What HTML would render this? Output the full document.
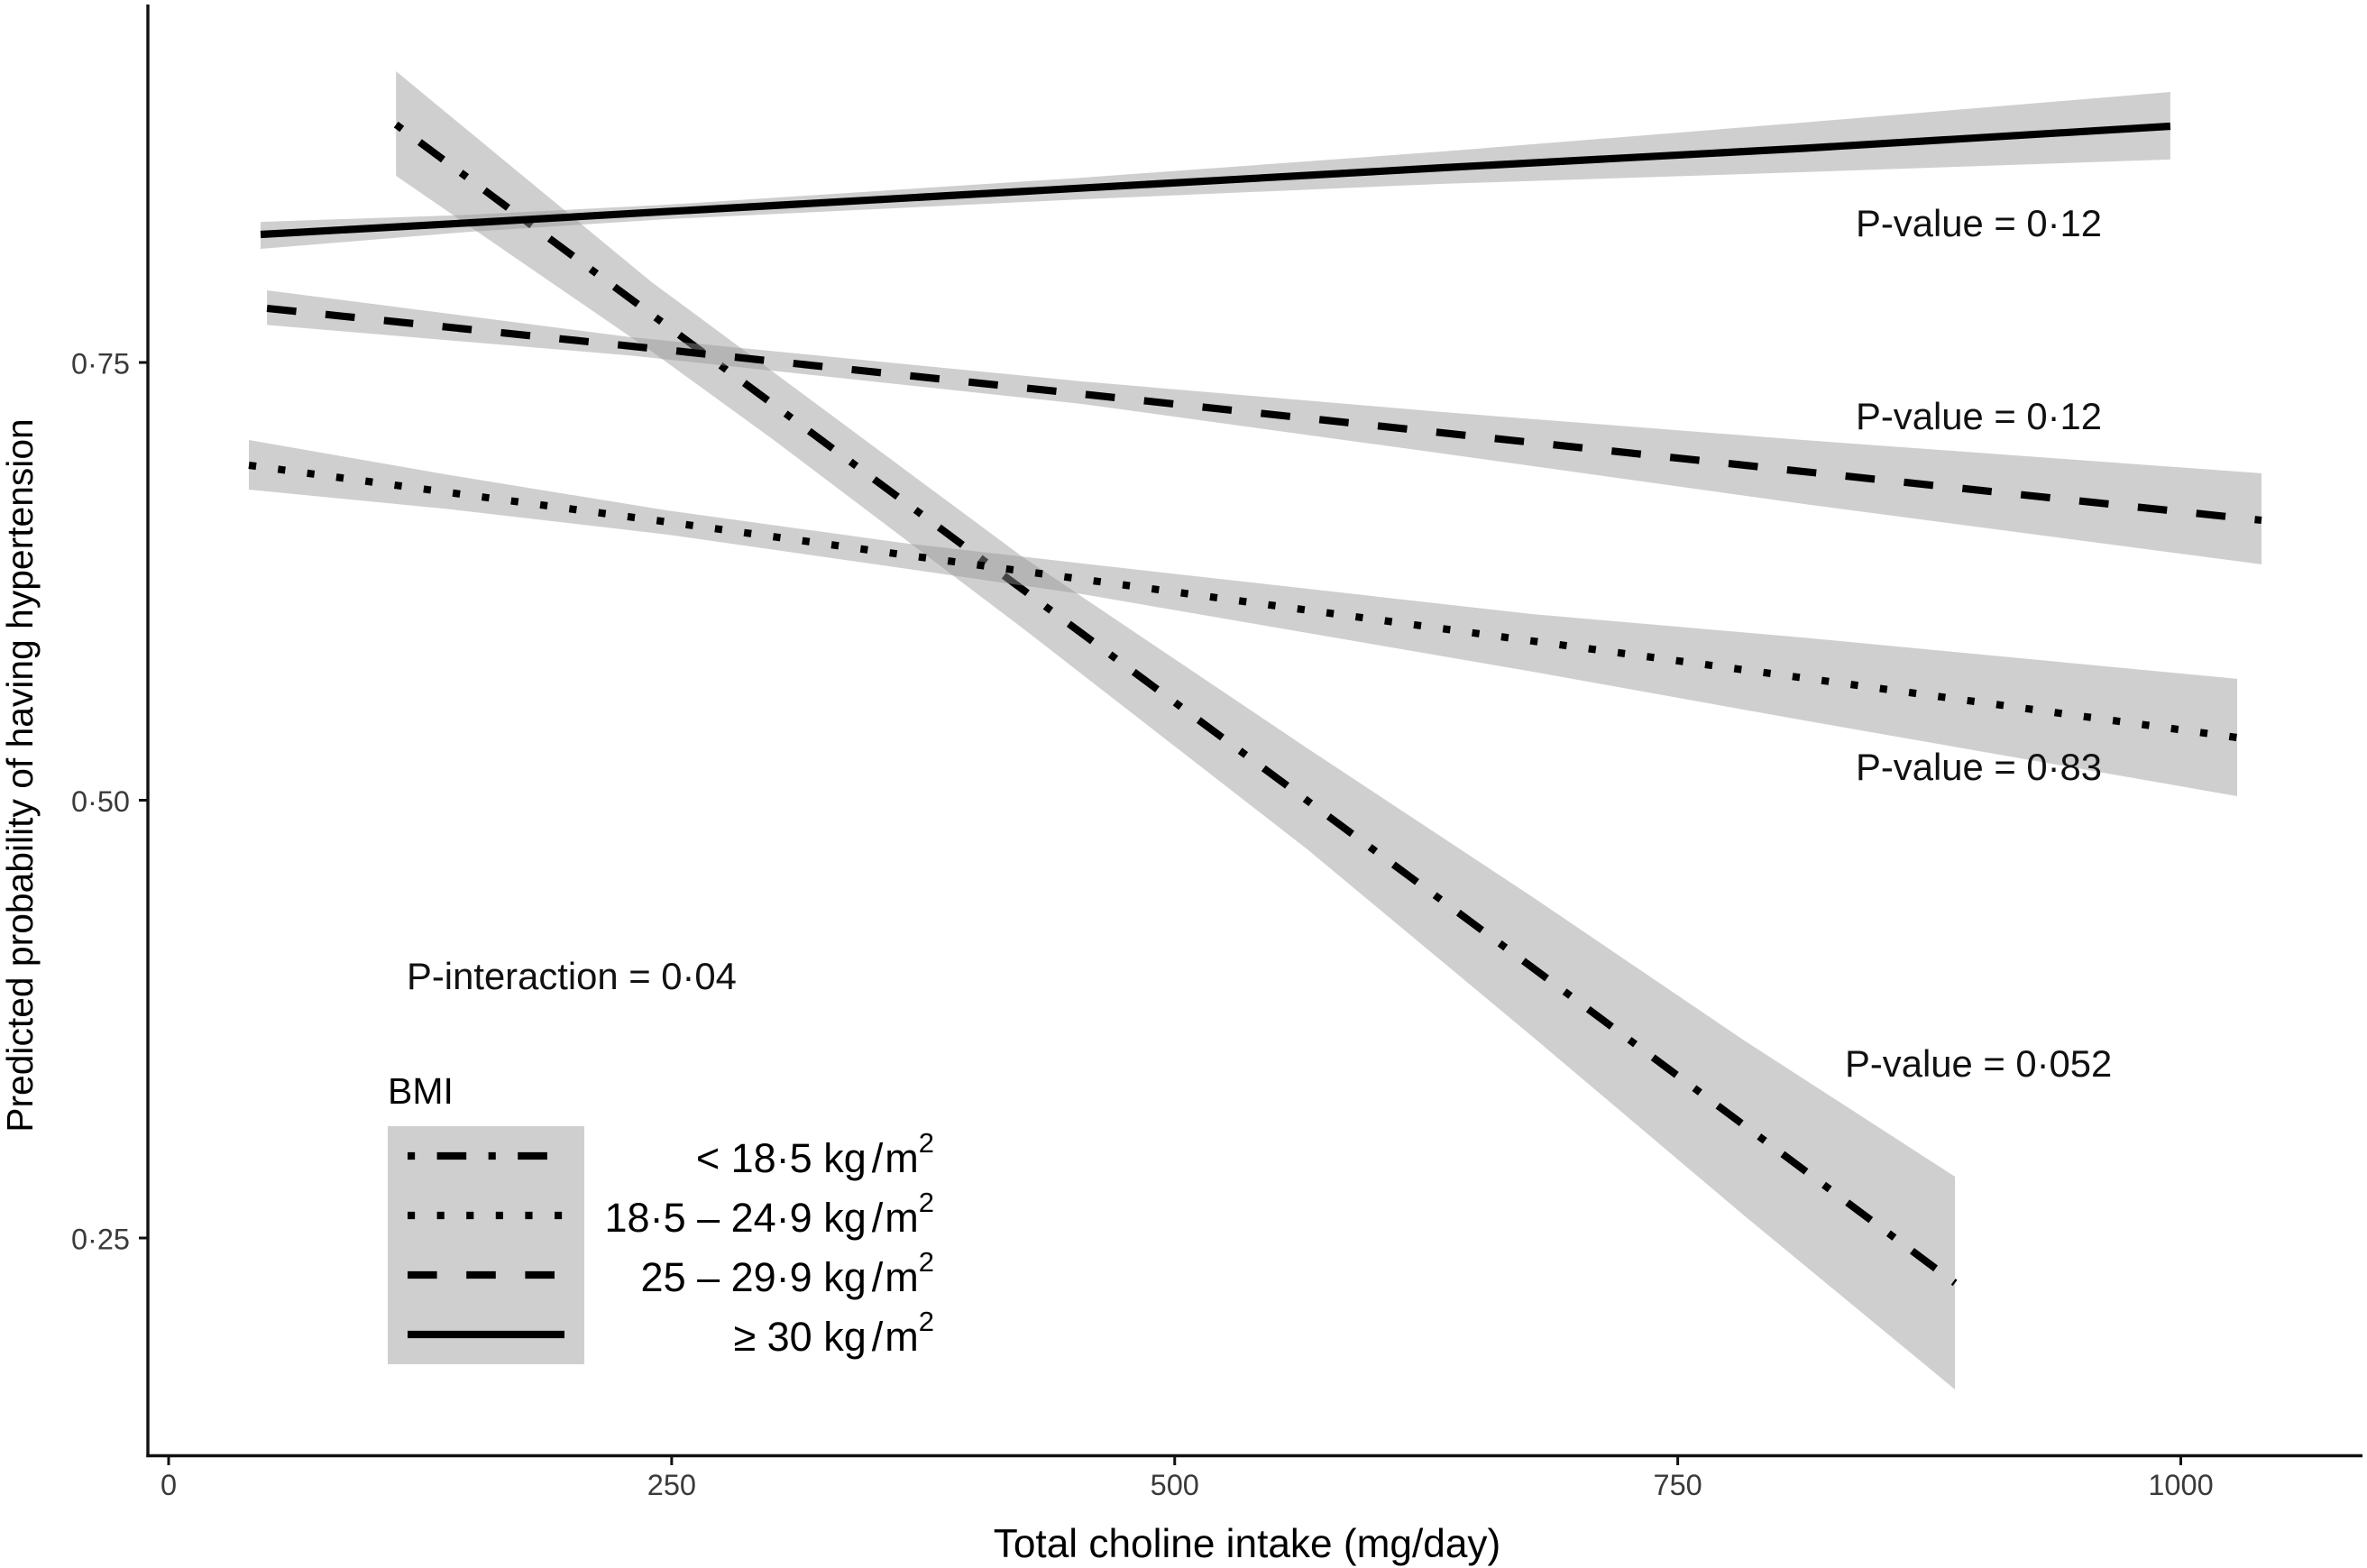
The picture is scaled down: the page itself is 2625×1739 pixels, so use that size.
<!DOCTYPE html>
<html lang="en">
<head>
<meta charset="utf-8">
<title>Predicted probability of hypertension by total choline intake and BMI</title>
<style>
  html, body { margin: 0; padding: 0; background: #fff; }
  svg { display: block; font-family: "Liberation Sans", Arial, sans-serif; }
</style>
</head>
<body>
<svg id="chart" xmlns="http://www.w3.org/2000/svg" width="2625" height="1739" viewBox="0 0 2625 1739">
  <rect x="0" y="0" width="2625" height="1739" fill="#ffffff"/>
  <g id="marks"></g>
  <g id="axes"></g>

  <text x="1383" y="1727" font-size="44.2" text-anchor="middle" fill="#000">Total choline intake (mg/day)</text>
  <text transform="translate(36,860) rotate(-90)" font-size="40.8" text-anchor="middle" fill="#000">Predicted probability of having hypertension</text>

  <g font-size="41.8" fill="#111">
    <text x="2058" y="262">P-value = 0·12</text>
    <text x="2058" y="476">P-value = 0·12</text>
    <text x="2058" y="865">P-value = 0·83</text>
    <text x="2046" y="1194">P-value = 0·052</text>
    <text x="451" y="1097">P-interaction = 0·04</text>
  </g>

  <g>
    <text x="430" y="1224" font-size="41" fill="#000">BMI</text>
    <rect x="430" y="1249" width="218" height="264" fill="#cfcfcf"/>
    <line x1="452" x2="626" y1="1282" y2="1282" stroke="#000" stroke-width="8.15" stroke-dasharray="8.15 24.45 32.6 24.45"/>
    <line x1="452" x2="626" y1="1348" y2="1348" stroke="#000" stroke-width="8.15" stroke-dasharray="8.15 24.45"/>
    <line x1="452" x2="626" y1="1414" y2="1414" stroke="#000" stroke-width="8.15" stroke-dasharray="32.6 32.6"/>
    <line x1="452" x2="626" y1="1480" y2="1480" stroke="#000" stroke-width="8.15"/>
    <g font-size="45" fill="#000" text-anchor="end">
      <text x="1036" y="1300">&lt; 18·5 kg<tspan dx="6">/</tspan><tspan dx="2">m</tspan><tspan dy="-22" font-size="31">2</tspan></text>
      <text x="1036" y="1366">18·5 – 24·9 kg<tspan dx="6">/</tspan><tspan dx="2">m</tspan><tspan dy="-22" font-size="31">2</tspan></text>
      <text x="1036" y="1432">25 – 29·9 kg<tspan dx="6">/</tspan><tspan dx="2">m</tspan><tspan dy="-22" font-size="31">2</tspan></text>
      <text x="1036" y="1498">≥ 30 kg<tspan dx="6">/</tspan><tspan dx="2">m</tspan><tspan dy="-22" font-size="31">2</tspan></text>
    </g>
  </g>
</svg>

<script>
// Axis tick values and printed labels
const xTickValues = [0, 250, 500, 750, 1000];
const xTickLabels = ['0', '250', '500', '750', '1000'];
const yTickValues = [0.25, 0.50, 0.75];
const yTickLabels = ['0·25', '0·50', '0·75'];

// BMI < 18.5 kg/m2 (dot-dash)
const underweightIntake = [113.0, 240.2, 300.2, 424.0, 566.0, 678.0, 782.4, 887.8];
const underweightMean   = [0.8859, 0.7773, 0.7263, 0.6207, 0.4997, 0.4042, 0.3149, 0.2243];
const underweightUpper  = [0.9163, 0.7958, 0.7448, 0.6393, 0.5296, 0.4446, 0.3633, 0.2850];
const underweightLower  = [0.8566, 0.7562, 0.7062, 0.5986, 0.4719, 0.3648, 0.2634, 0.1635];

// BMI 18.5-24.9 kg/m2 (dotted)
const normalIntake = [39.9, 140.3, 247.8, 364.3, 453.9, 678.0, 812.5, 1028.0];
const normalMean   = [0.6913, 0.6756, 0.6589, 0.6403, 0.6262, 0.5909, 0.5698, 0.5358];
const normalUpper  = [0.7057, 0.6856, 0.6655, 0.6470, 0.6352, 0.6063, 0.5929, 0.5693];
const normalLower  = [0.6774, 0.6661, 0.6517, 0.6326, 0.6177, 0.5734, 0.5456, 0.5023];

// BMI 25-29.9 kg/m2 (dashed)
const overweightIntake = [48.9, 229.9, 453.9, 633.2, 812.5, 1040.1];
const overweightMean   = [0.7809, 0.7593, 0.7320, 0.7098, 0.6877, 0.6599];
const overweightUpper  = [0.7912, 0.7644, 0.7392, 0.7217, 0.7057, 0.6867];
const overweightLower  = [0.7714, 0.7539, 0.7263, 0.6980, 0.6692, 0.6347];

// BMI >= 30 kg/m2 (solid)
const obeseIntake = [45.7, 150.6, 247.8, 453.9, 633.2, 812.5, 994.8];
const obeseMean   = [0.8231, 0.8298, 0.8362, 0.8496, 0.8612, 0.8723, 0.8849];
const obeseUpper  = [0.8303, 0.8344, 0.8401, 0.8555, 0.8705, 0.8870, 0.9045];
const obeseLower  = [0.8149, 0.8247, 0.8319, 0.8432, 0.8520, 0.8587, 0.8659];

const NS = 'http://www.w3.org/2000/svg';
const xScale = v => 187 + 2.2315 * v;
const yScale = v => 1373 - (v - 0.25) * 1942;

const pointsOf = (xs, ys) => xs.map((x, i) => xScale(x).toFixed(1) + ',' + yScale(ys[i]).toFixed(1));

const marks = document.getElementById('marks');
const axes = document.getElementById('axes');

function drawSeries(name, xs, mean, upper, lower, dash) {
  const band = document.createElementNS(NS, 'polygon');
  
  
  band.setAttribute('points', pointsOf(xs, upper).concat(pointsOf(xs, lower).reverse()).join(' '));
  band.setAttribute('fill', 'rgb(150,150,150)');
  band.setAttribute('fill-opacity', '0.46');
  marks.appendChild(band);

  const line = document.createElementNS(NS, 'polyline');
  
  
  line.setAttribute('points', pointsOf(xs, mean).join(' '));
  line.setAttribute('fill', 'none');
  line.setAttribute('stroke', '#000');
  line.setAttribute('stroke-width', '8.15');
  if (dash) line.setAttribute('stroke-dasharray', dash);
  marks.appendChild(line);
}

drawSeries('underweight', underweightIntake, underweightMean, underweightUpper, underweightLower, '8.15 24.45 32.6 24.45');
drawSeries('normal-weight', normalIntake, normalMean, normalUpper, normalLower, '8.15 24.45');
drawSeries('overweight', overweightIntake, overweightMean, overweightUpper, overweightLower, '32.6 32.6');
drawSeries('obese', obeseIntake, obeseMean, obeseUpper, obeseLower, '');

function axisLine(name, x1, y1, x2, y2, width) {
  const l = document.createElementNS(NS, 'line');
  
  
  l.setAttribute('x1', x1);
  l.setAttribute('y1', y1);
  l.setAttribute('x2', x2);
  l.setAttribute('y2', y2);
  l.setAttribute('stroke', '#111');
  l.setAttribute('stroke-width', width);
  axes.appendChild(l);
}

function tickText(name, x, y, anchor, label) {
  const t = document.createElementNS(NS, 'text');
  
  
  t.setAttribute('x', x);
  t.setAttribute('y', y);
  t.setAttribute('text-anchor', anchor);
  t.setAttribute('font-size', '32.5');
  t.setAttribute('fill', '#3a3a3a');
  t.textContent = label;
  axes.appendChild(t);
}

axisLine('y-axis-line', 164, 5, 164, 1616, 3.4);
axisLine('x-axis-line', 162.3, 1614.5, 2620, 1614.5, 3.4);

xTickValues.forEach((v, i) => {
  axisLine('x-tick-' + xTickLabels[i], xScale(v), 1616, xScale(v), 1625, 3);
  tickText('x-tick-label-' + xTickLabels[i], xScale(v), 1658, 'middle', xTickLabels[i]);
});
yTickValues.forEach((v, i) => {
  axisLine('y-tick-' + yTickLabels[i], 154, yScale(v), 163, yScale(v), 3);
  tickText('y-tick-label-' + yTickLabels[i], 144, yScale(v) + 12.5, 'end', yTickLabels[i]);
});
</script>
</body>
</html>
